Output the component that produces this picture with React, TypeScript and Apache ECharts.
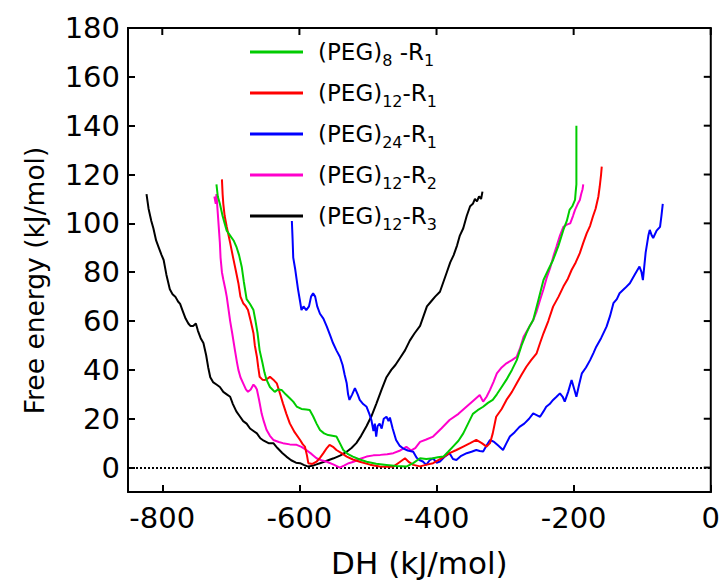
import React, { useEffect, useRef } from "react";
import * as echarts from "echarts";

const seriesNames = ["(PEG)8 -R1", "(PEG)12-R1", "(PEG)24-R1", "(PEG)12-R2", "(PEG)12-R3"];
const legendRich = [
  "(PEG){s|8} -R{s|1}",
  "(PEG){s|12}-R{s|1}",
  "(PEG){s|24}-R{s|1}",
  "(PEG){s|12}-R{s|2}",
  "(PEG){s|12}-R{s|3}",
];
const seriesColors = ["#00cc00", "#ff0000", "#0000ff", "#ff00cc", "#000000"];

const xTicks = [-800, -600, -400, -200, 0];
const yTicks = [0, 20, 40, 60, 80, 100, 120, 140, 160, 180];
const xRange = [-850, 0];
const yRange = [-10, 180];

const peg8R1 = [
  [-721, 116], [-719, 111], [-716, 108], [-712, 103], [-709, 100], [-706, 97], [-701, 95], [-696, 93],
  [-692, 90.5], [-688, 87], [-684, 82], [-681, 76], [-677, 69], [-672, 67], [-667, 64.5], [-664, 60],
  [-661, 55], [-658, 48], [-654, 43], [-651, 39], [-648, 36], [-643, 33], [-636, 31], [-631, 32],
  [-626, 31.8], [-620, 30], [-614, 28.4], [-609, 27], [-604, 25], [-597, 24], [-590, 23.8], [-585, 23.6],
  [-580, 21], [-575, 18], [-570, 15.4], [-564, 14], [-558, 13.3], [-552, 13], [-546, 12.7], [-541, 10],
  [-536, 7.2], [-529, 5.5], [-522, 4.5], [-512, 3.3], [-502, 2.4], [-488, 1.6], [-473, 1.1], [-458, 0.6],
  [-444, 0.4], [-434, 1.8], [-424, 3.8], [-415, 3.5], [-405, 3.8], [-398, 4.2], [-390, 4.5], [-383, 6.5],
  [-376, 8.6], [-368, 11], [-361, 14], [-354, 18], [-347, 22], [-340, 23.5], [-332, 24.9], [-325, 26.5],
  [-318, 27.7], [-312, 30], [-305, 33], [-298, 36], [-290, 40], [-283, 44], [-276, 50], [-269, 55],
  [-264, 58], [-259, 60.4], [-252, 68], [-244, 76.8], [-237, 81], [-230, 85], [-222, 91], [-215, 97.3],
  [-210, 101], [-206, 105.5], [-202, 107], [-198, 109.6], [-197, 113], [-196, 116], [-196, 125], [-196, 132],
  [-196, 140],
];

const peg12R1 = [
  [-713, 118], [-712, 112], [-711, 108], [-709, 103], [-706, 98.6], [-701, 92], [-697, 86.4], [-693, 81],
  [-689, 75.5], [-686, 70], [-682, 67.3], [-678, 66], [-675, 64.5], [-671, 60], [-667, 55], [-665, 50],
  [-662, 45.4], [-660, 41], [-658, 37.2], [-654, 36], [-650, 35.9], [-646, 36.5], [-643, 37.2], [-638, 36],
  [-633, 34.5], [-628, 30], [-624, 26.3], [-619, 22], [-614, 18.1], [-607, 14.5], [-599, 11.3], [-595, 9.5],
  [-592, 8.6], [-589, 5], [-587, 1.8], [-581, 1.5], [-575, 2.4], [-570, 4], [-565, 5.9], [-560, 8],
  [-556, 9.3], [-551, 8.5], [-546, 7.2], [-538, 5.8], [-531, 4.5], [-522, 3.3], [-512, 2.4], [-497, 1.2],
  [-483, 0.4], [-470, 0.3], [-463, 0.4], [-455, 2], [-446, 3.8], [-440, 2.2], [-434, 1.1], [-424, 0.5],
  [-414, 1.2], [-405, 1.8], [-393, 3.8], [-381, 5.9], [-371, 7.2], [-361, 8.6], [-351, 10], [-342, 11.3],
  [-334, 10], [-327, 8.6], [-322, 10], [-318, 14], [-313, 20.8], [-305, 24], [-298, 27.7], [-290, 31],
  [-283, 34.5], [-276, 38], [-269, 41.3], [-262, 44], [-254, 46.8], [-249, 51], [-244, 55], [-237, 60],
  [-230, 65.9], [-222, 70], [-215, 74.1], [-209, 77], [-203, 80.9], [-197, 84], [-191, 87.8], [-186, 92],
  [-181, 95.9], [-176, 99], [-172, 102.7], [-168, 106], [-164, 110.9], [-162, 115], [-160, 120], [-159, 123.2],
];

const peg24R1 = [
  [-611, 101], [-610, 94], [-609, 86], [-606, 81], [-604, 77], [-602, 73], [-599, 68], [-597, 64.5],
  [-594, 66], [-590, 64.5], [-586, 66], [-583, 70], [-580, 71.4], [-577, 70], [-574, 66], [-570, 63],
  [-565, 61], [-560, 57.7], [-555, 54], [-551, 51], [-546, 48], [-541, 45.4], [-537, 42], [-534, 38],
  [-531, 34.5], [-529, 30], [-527, 27.7], [-523, 30], [-519, 32.5], [-515, 30], [-512, 27.7], [-507, 26],
  [-502, 24.9], [-498, 22], [-495, 19.5], [-492, 15], [-490, 18], [-488, 12.7], [-486, 17], [-483, 18],
  [-480, 16], [-477, 20], [-473, 20.8], [-470, 19], [-468, 20.5], [-464, 16], [-459, 11.3], [-454, 9],
  [-449, 7.9], [-442, 7], [-434, 6.5], [-429, 4], [-425, 3.1], [-420, 2.5], [-415, 1.1], [-410, 3],
  [-405, 3.8], [-400, 2], [-395, 2.5], [-388, 4.5], [-381, 5.9], [-376, 3.5], [-371, 3.1], [-364, 4.8],
  [-356, 5.9], [-349, 6.5], [-342, 7.2], [-337, 6.8], [-332, 6.6], [-327, 9], [-322, 11.3], [-316, 10.5],
  [-310, 9], [-303, 7.2], [-298, 10], [-293, 12.7], [-286, 14.5], [-279, 16.7], [-272, 18], [-265, 20],
  [-259, 22.2], [-254, 21.5], [-249, 20.8], [-244, 23], [-240, 24.9], [-235, 26], [-230, 27.7], [-225, 29],
  [-220, 30.4], [-216, 29], [-213, 27], [-208, 31], [-203, 35.9], [-199, 32], [-196, 29], [-192, 34],
  [-188, 38.6], [-182, 41], [-176, 44], [-171, 47], [-167, 49.5], [-160, 53], [-152, 57.7], [-147, 62],
  [-142, 67.3], [-137, 69], [-133, 71.4], [-125, 73.5], [-118, 75.5], [-111, 79], [-104, 82.3], [-101, 80],
  [-99, 76.8], [-95, 88], [-91, 95], [-89, 97.3], [-86, 95], [-84, 94], [-79, 97], [-74, 98.6],
  [-72, 103], [-70, 108],
];

const peg12R2 = [
  [-724, 111], [-722, 108], [-721, 112], [-719, 104], [-717, 96], [-716, 92], [-715, 86], [-713, 80],
  [-711, 77], [-708, 73], [-706, 70], [-704, 66], [-701, 60], [-698, 55], [-694, 48], [-691, 43],
  [-689, 40], [-686, 37], [-682, 34.5], [-678, 32], [-675, 31], [-671, 32], [-667, 34], [-664, 33],
  [-662, 32], [-659, 28], [-655, 22], [-652, 19], [-648, 15.5], [-643, 13], [-638, 11.3], [-630, 10.5],
  [-624, 10], [-614, 9.5], [-604, 9.3], [-597, 8.5], [-590, 7.2], [-582, 5.5], [-575, 3.8], [-568, 3],
  [-560, 2.4], [-550, 1.2], [-541, 0], [-535, 0.8], [-528, 1.8], [-521, 2.4], [-512, 3.5], [-502, 4.5],
  [-492, 5], [-482, 5.2], [-472, 5.5], [-463, 5.9], [-453, 7], [-444, 8.5], [-437, 7], [-431, 8],
  [-424, 10.5], [-415, 11.5], [-405, 12.7], [-393, 16], [-381, 19.5], [-368, 22], [-356, 25], [-346, 27.5],
  [-337, 29.7], [-332, 27], [-327, 29], [-322, 31.8], [-317, 35], [-312, 38.6], [-305, 41], [-298, 42.7],
  [-290, 44], [-283, 45.4], [-278, 49], [-273, 53.6], [-266, 57], [-259, 60.4], [-254, 64], [-249, 68.6],
  [-244, 73], [-239, 78], [-234, 82], [-229, 87], [-225, 90.5], [-220, 95], [-215, 98.6], [-210, 99.5],
  [-205, 100], [-201, 103], [-198, 105.5], [-194, 108], [-191, 109.6], [-189, 112], [-187, 114], [-186, 116],
];

const peg12R3 = [
  [-823, 112], [-820, 106], [-816, 101], [-813, 98], [-809, 93], [-805, 90], [-801, 87], [-798, 85],
  [-794, 79], [-789, 73], [-785, 71], [-781, 70], [-777, 68], [-774, 67], [-770, 64], [-766, 61],
  [-762, 59], [-759, 58], [-755, 58], [-751, 59], [-748, 56], [-744, 53], [-740, 51], [-736, 46],
  [-733, 41], [-730, 37], [-726, 35], [-721, 34], [-716, 33], [-711, 31], [-706, 30], [-701, 29],
  [-697, 26], [-692, 23], [-687, 21], [-682, 19], [-677, 18], [-672, 16], [-667, 15], [-662, 14],
  [-657, 12], [-652, 11], [-645, 10], [-638, 10], [-632, 8], [-625, 6], [-619, 4.5], [-612, 3],
  [-605, 2], [-599, 1.8], [-593, 1], [-587, 0.4], [-580, 0.8], [-575, 1.3], [-570, 1.8], [-560, 2.8],
  [-550, 3.8], [-540, 5], [-531, 6.5], [-524, 8], [-517, 10], [-510, 13], [-502, 17], [-495, 21],
  [-488, 26], [-480, 32], [-473, 37], [-466, 40], [-460, 42], [-453, 45], [-446, 48], [-439, 52],
  [-432, 55], [-424, 58], [-419, 62], [-414, 66], [-408, 68], [-402, 70], [-395, 72], [-390, 76],
  [-385, 80], [-380, 84], [-375, 87], [-370, 91], [-366, 95], [-361, 98], [-356, 103], [-351, 107],
  [-347, 108], [-344, 110], [-341, 109], [-338, 111], [-335, 110], [-333, 113],
];

const seriesData = [peg8R1, peg12R1, peg24R1, peg12R2, peg12R3];

const FONT = "DejaVu Sans";

export default function App() {
  const ref = useRef<HTMLDivElement>(null);
  useEffect(() => {
    if (!ref.current) return;
    const chart = echarts.init(ref.current, null, { renderer: "svg" });
    const axisLineStyle = { color: "#000", width: 2 };
    const tickCommon = { show: true, inside: true, length: 7, lineStyle: { color: "#000", width: 2 } };
    const series: any[] = seriesData.map((d, i) => ({
      name: seriesNames[i],
      type: "line",
      data: d,
      showSymbol: false,
      symbol: "none",
      xAxisIndex: 0,
      yAxisIndex: 0,
      lineStyle: { color: seriesColors[i], width: 2 },
      itemStyle: { color: seriesColors[i] },
      z: 3 + (4 - i),
    }));
    series[0].markLine = {
      silent: true,
      symbol: "none",
      label: { show: false },
      lineStyle: { color: "#000", type: "dotted", width: 2 },
      data: [{ yAxis: 0 }],
      z: 1,
    };
    chart.setOption({
      animation: false,
      backgroundColor: "#fff",
      textStyle: { fontFamily: FONT },
      grid: { left: 128, right: 12, top: 28, bottom: 93, containLabel: false },
      legend: {
        orient: "vertical",
        left: 245,
        top: 31,
        itemWidth: 53,
        itemHeight: 3,
        itemGap: 9,
        icon: "rect",
        data: seriesNames,
        formatter: (name: string) => legendRich[seriesNames.indexOf(name)],
        textStyle: {
          fontFamily: FONT,
          fontSize: 23,
          color: "#000",
          lineHeight: 28,
          padding: [0, 0, 0, 10],
          rich: {
            s: { fontFamily: FONT, fontSize: 16, lineHeight: 12, padding: [16, 0, 0, 0], color: "#000" },
          },
        },
      },
      xAxis: [
        {
          type: "value",
          position: "bottom",
          min: xRange[0],
          max: xRange[1],
          name: "DH (kJ/mol)",
          nameLocation: "middle",
          nameGap: 55,
          nameTextStyle: { fontFamily: FONT, fontSize: 31, color: "#000" },
          axisLine: { show: true, onZero: false, lineStyle: axisLineStyle },
          axisTick: { ...tickCommon, customValues: xTicks },
          axisLabel: { show: true, customValues: xTicks, fontFamily: FONT, fontSize: 29, color: "#000", margin: 11 },
          splitLine: { show: false },
        },
      ],
      yAxis: [
        {
          type: "value",
          position: "left",
          min: yRange[0],
          max: yRange[1],
          name: "Free energy (kJ/mol)",
          nameLocation: "middle",
          nameGap: 80,
          nameTextStyle: { fontFamily: FONT, fontSize: 26.5, color: "#000", padding: [0, 41, 0, 0] },
          axisLine: { show: true, onZero: false, lineStyle: axisLineStyle },
          axisTick: { ...tickCommon, customValues: yTicks },
          axisLabel: { show: true, customValues: yTicks, fontFamily: FONT, fontSize: 29, color: "#000", margin: 8 },
          splitLine: { show: false },
        },
      ],
      series,
    });

    // Top and right sides of the frame with inward ticks, placed through the axes' own scales.
    const xAx = (chart as any).getModel().getComponent("xAxis", 0).axis;
    const yAx = (chart as any).getModel().getComponent("yAxis", 0).axis;
    const px = (v: number) => xAx.toGlobalCoord(xAx.dataToCoord(v));
    const py = (v: number) => yAx.toGlobalCoord(yAx.dataToCoord(v));
    const left = px(xRange[0]);
    const right = px(xRange[1]);
    const top = py(yRange[1]);
    const bottom = py(yRange[0]);
    const stroke = { stroke: "#000", lineWidth: 2, fill: null };
    const graphics: any[] = [
      { type: "line", silent: true, z: 100, shape: { x1: left - 1, y1: top, x2: right + 1, y2: top }, style: stroke },
      { type: "line", silent: true, z: 100, shape: { x1: right, y1: top, x2: right, y2: bottom + 1 }, style: stroke },
    ];
    xTicks.forEach((v) => {
      const x = px(v);
      graphics.push({ type: "line", silent: true, z: 100, shape: { x1: x, y1: top, x2: x, y2: top + 7 }, style: stroke });
    });
    yTicks.forEach((v) => {
      const y = py(v);
      graphics.push({ type: "line", silent: true, z: 100, shape: { x1: right, y1: y, x2: right - 7, y2: y }, style: stroke });
    });
    chart.setOption({ graphic: { elements: graphics } });
    return () => chart.dispose();
  }, []);
  return <div ref={ref} style={{ width: 723, height: 585, position: "absolute", left: 0, top: 0 }} />;
}
